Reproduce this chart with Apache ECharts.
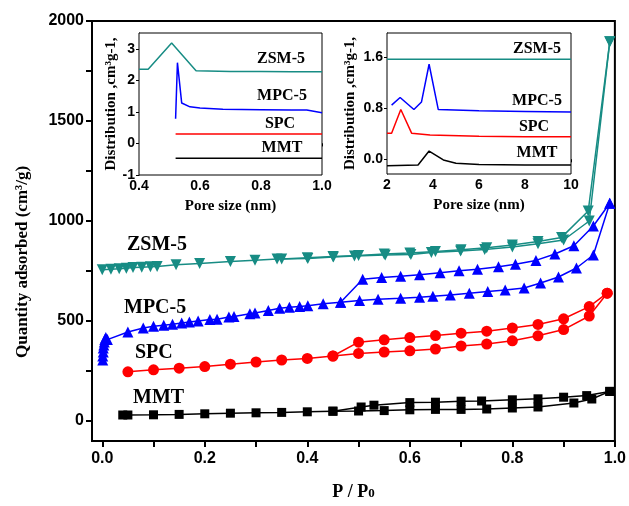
<!DOCTYPE html>
<html>
<head>
<meta charset="utf-8">
<script src="https://cdn.jsdelivr.net/npm/echarts@6/dist/echarts.min.js"></script>
<style>
  html, body { margin: 0; padding: 0; background: #fff; }
  #main { width: 629px; height: 506px; }
</style>
</head>
<body>
<div id="main"></div>
<script>
// main isotherms (P/P0 vs quantity adsorbed)
const mmtAdsX = [0.04, 0.05, 0.1, 0.15, 0.2, 0.25, 0.3, 0.35, 0.4, 0.45, 0.5, 0.55, 0.6, 0.65, 0.7, 0.75, 0.8, 0.85, 0.92, 0.955, 0.99]
const mmtAdsY = [30, 30, 31, 33, 36, 39, 41, 43, 46, 49, 50, 52, 56, 58, 58, 60, 65, 70, 90, 110, 148]
const mmtDesX = [0.99, 0.945, 0.9, 0.85, 0.8, 0.74, 0.7, 0.65, 0.6, 0.53, 0.505, 0.45]
const mmtDesY = [148, 127, 119, 111, 106, 100, 99, 94, 92, 79, 70, 49]

const spcAdsX = [0.05, 0.1, 0.15, 0.2, 0.25, 0.3, 0.35, 0.4, 0.45, 0.5, 0.55, 0.6, 0.65, 0.7, 0.75, 0.8, 0.85, 0.9, 0.95, 0.985]
const spcAdsY = [246, 256, 264, 272, 284, 295, 305, 313, 325, 338, 345, 351, 360, 375, 385, 401, 426, 457, 525, 639]
const spcDesX = [0.985, 0.95, 0.9, 0.85, 0.8, 0.75, 0.7, 0.65, 0.6, 0.55, 0.5, 0.45]
const spcDesY = [639, 572, 511, 483, 465, 449, 439, 427, 417, 406, 394, 325]

const mpcAdsX = [0.001, 0.001, 0.002, 0.002, 0.003, 0.004, 0.005, 0.007, 0.01, 0.05, 0.08, 0.1, 0.12, 0.137, 0.155, 0.17, 0.187, 0.21, 0.224, 0.247, 0.257, 0.288, 0.298, 0.324, 0.346, 0.365, 0.385, 0.401, 0.431, 0.465, 0.502, 0.538, 0.582, 0.619, 0.645, 0.679, 0.716, 0.752, 0.786, 0.823, 0.855, 0.89, 0.925, 0.958, 0.99]
const mpcAdsY = [305, 325, 345, 365, 380, 395, 408, 418, 407, 445, 465, 474, 479, 484, 490, 495, 500, 507, 509, 520, 523, 536, 540, 553, 564, 569, 573, 576, 586, 594, 602, 609, 614, 619, 624, 630, 639, 647, 655, 665, 690, 720, 765, 830, 1089]
const mpcDesX = [0.99, 0.958, 0.92, 0.883, 0.846, 0.806, 0.773, 0.732, 0.696, 0.659, 0.619, 0.582, 0.545, 0.508, 0.465]
const mpcDesY = [1089, 975, 876, 835, 803, 784, 771, 759, 751, 741, 731, 724, 718, 709, 594]

const zsmAdsX = [0.0, 0.017, 0.033, 0.047, 0.06, 0.077, 0.094, 0.107, 0.144, 0.19, 0.25, 0.298, 0.341, 0.401, 0.451, 0.492, 0.552, 0.602, 0.642, 0.699, 0.746, 0.8, 0.85, 0.9, 0.95, 0.99]
const zsmAdsY = [756, 759, 761, 764, 767, 769, 771, 772, 781, 787, 797, 804, 810, 813, 820, 825, 830, 833, 842, 850, 858, 870, 886, 905, 1000, 1896]
const zsmDesX = [0.99, 0.948, 0.896, 0.85, 0.8, 0.75, 0.7, 0.65, 0.6, 0.55, 0.5, 0.45, 0.4, 0.35]
const zsmDesY = [1896, 1050, 918, 898, 880, 866, 856, 848, 840, 835, 828, 822, 816, 810]

// inset 1: micropore distribution (0.4 - 1.0 nm)
const in1ZsmX = [0.4, 0.43, 0.507, 0.587, 0.7, 0.8, 0.9, 1.0]
const in1ZsmY = [2.35, 2.35, 3.18, 2.3, 2.28, 2.28, 2.27, 2.27]
const in1MpcX = [0.52, 0.526, 0.54, 0.567, 0.6, 0.675, 0.8, 0.9, 0.95, 1.0]
const in1MpcY = [0.78, 2.56, 1.28, 1.16, 1.12, 1.08, 1.07, 1.06, 1.06, 0.97]
const in1SpcX = [0.52, 1.0]
const in1SpcY = [0.3, 0.3]
const in1MmtX = [0.52, 1.0]
const in1MmtY = [-0.47, -0.47]

// inset 2: mesopore distribution (2 - 10 nm)
const in2ZsmX = [2, 10]
const in2ZsmY = [1.57, 1.57]
const in2MpcX = [2.2, 2.57, 3.17, 3.5, 3.83, 4.23, 6, 8, 10]
const in2MpcY = [0.85, 0.97, 0.78, 0.9, 1.49, 0.78, 0.76, 0.75, 0.74]
const in2SpcX = [2, 2.2, 2.6, 3.07, 3.87, 6, 8, 10]
const in2SpcY = [0.41, 0.41, 0.78, 0.41, 0.38, 0.36, 0.355, 0.355]
const in2MmtX = [2, 3.35, 3.83, 4.45, 5.0, 6, 8, 10]
const in2MmtY = [-0.1, -0.09, 0.13, -0.01, -0.06, -0.08, -0.09, -0.09]

// ticks
const mainXTicks = [0, 0.1, 0.2, 0.3, 0.4, 0.5, 0.6, 0.7, 0.8, 0.9, 1.0]
const mainXLabels = [0, 0.2, 0.4, 0.6, 0.8, 1.0]
const mainYTicks = [0, 250, 500, 750, 1000, 1250, 1500, 1750, 2000]
const mainYLabels = [0, 500, 1000, 1500, 2000]
const in1XLabels = [0.4, 0.6, 0.8, 1.0]
const in1YLabels = [-1, 0, 1, 2, 3]
const in2XLabels = [2, 4, 6, 8, 10]
const in2YLabels = [0, 0.8, 1.6]

const colors = { mmt: '#000000', spc: '#ff0000', mpc: '#0000ff', zsm: '#178c84' }
const serif = 'Liberation Serif'
const sans = 'Liberation Sans'

const zip = (xs, ys) => xs.map((x, i) => [x, ys[i]])

let myChart = echarts.init(document.getElementById('main'))

function isoSeries(xs, ys, color, symbol, size, rotate) {
    return {
        type: 'line',
        xAxisIndex: 0,
        yAxisIndex: 0,
        data: zip(xs, ys),
        symbol: symbol,
        symbolSize: size,
        symbolRotate: rotate || 0,
        showSymbol: true,
        lineStyle: { color: color, width: 1.5 },
        itemStyle: { color: color, borderWidth: 0 },
        animation: false,
        z: 3
    }
}

function psdSeries(idx, xs, ys, color) {
    return {
        type: 'line',
        xAxisIndex: idx,
        yAxisIndex: idx,
        data: zip(xs, ys),
        showSymbol: false,
        symbol: 'none',
        lineStyle: { color: color, width: 1.5 },
        animation: false,
        z: 6
    }
}

const tickLabel = { color: '#000', fontFamily: sans, fontWeight: 'bold' }

function insetAxes(idx, xmin, xmax, xLabels, xFmt, ymin, ymax, yLabels, yFmt, yGap) {
    return {
        x: {
            type: 'value', gridIndex: idx, min: xmin, max: xmax,
            name: 'Pore size (nm)', nameLocation: 'middle', nameGap: 24,
            nameTextStyle: { fontFamily: serif, fontWeight: 'bold', fontSize: 15, color: '#000' },
            axisLine: { lineStyle: { color: '#000', width: 1 } },
            axisTick: { inside: false, length: 3, customValues: xLabels, lineStyle: { color: '#000' } },
            axisLabel: Object.assign({ fontSize: 14, margin: 4, customValues: xLabels, formatter: xFmt }, tickLabel),
            splitLine: { show: false }
        },
        y: {
            type: 'value', gridIndex: idx, min: ymin, max: ymax,
            name: 'Distribution ,cm³g-1,', nameLocation: 'middle', nameGap: yGap,
            nameTextStyle: { fontFamily: serif, fontWeight: 'bold', fontSize: 15, color: '#000' },
            axisLine: { lineStyle: { color: '#000', width: 1 } },
            axisTick: { inside: false, length: 3, customValues: yLabels, lineStyle: { color: '#000' } },
            axisLabel: Object.assign({ fontSize: 14, margin: 4, customValues: yLabels, formatter: yFmt }, tickLabel),
            splitLine: { show: false }
        }
    }
}

const in1 = insetAxes(1, 0.4, 1.0, in1XLabels, v => v.toFixed(1), -1, 3.5, in1YLabels, v => String(Math.round(v)), 19)
const in2 = insetAxes(2, 2, 10, in2XLabels, v => String(Math.round(v)), -0.23, 1.98, in2YLabels, v => v.toFixed(1), 29)

function txt(text, x, y, size, align) {
    return {
        type: 'text', x: x, y: y, z: 10,
        style: {
            text: text, fill: '#000', font: 'bold ' + size + 'px "' + serif + '"',
            textAlign: align || 'left', textVerticalAlign: 'middle'
        }
    }
}

let option = {
    backgroundColor: '#fff',
    animation: false,
    grid: [
        { left: 92, right: 12, top: 21, bottom: 60, show: true, borderColor: '#000', borderWidth: 2, backgroundColor: 'transparent' },
        { left: 139, right: 307, top: 33, bottom: 331, show: true, borderColor: '#000', borderWidth: 1, backgroundColor: '#fff', z: 4 },
        { left: 387, right: 58, top: 33, bottom: 332, show: true, borderColor: '#000', borderWidth: 1, backgroundColor: '#fff', z: 4 }
    ],
    xAxis: [
        {
            type: 'value', gridIndex: 0, min: -0.02, max: 1.0,
            name: '{a|P / P}{b|0}', nameLocation: 'middle', nameGap: 42,
            nameTextStyle: {
                rich: {
                    a: { fontFamily: serif, fontWeight: 'bold', fontSize: 18, color: '#000' },
                    b: { fontFamily: serif, fontWeight: 'bold', fontSize: 13, color: '#000', padding: [4, 0, 0, 0] }
                }
            },
            axisLine: { onZero: false, lineStyle: { color: '#000', width: 2 } },
            axisTick: { inside: false, length: 6, customValues: mainXTicks, lineStyle: { color: '#000', width: 2 } },
            axisLabel: Object.assign({ fontSize: 16, margin: 10, customValues: mainXLabels, formatter: v => v.toFixed(1) }, tickLabel),
            splitLine: { show: false }
        },
        in1.x,
        in2.x
    ],
    yAxis: [
        {
            type: 'value', gridIndex: 0, min: -100, max: 2000,
            axisLine: { onZero: false, lineStyle: { color: '#000', width: 2 } },
            axisTick: { inside: false, length: 6, customValues: mainYTicks, lineStyle: { color: '#000', width: 2 } },
            axisLabel: Object.assign({ fontSize: 16, margin: 8, customValues: mainYLabels, formatter: v => String(Math.round(v)) }, tickLabel),
            splitLine: { show: false }
        },
        in1.y,
        in2.y
    ],
    graphic: [
        {
            type: 'text', x: 23, y: 262, rotation: Math.PI / 2, z: 10,
            style: {
                text: 'Quantity adsorbed (cm³/g)', fill: '#000',
                font: 'bold 17px "' + serif + '"', textAlign: 'center', textVerticalAlign: 'middle'
            }
        },
        txt('ZSM-5', 127, 245, 20),
        txt('MPC-5', 124, 308, 20),
        txt('SPC', 135, 353, 20),
        txt('MMT', 133, 398, 20),
        txt('ZSM-5', 281, 59, 16, 'center'),
        txt('MPC-5', 282, 96, 16, 'center'),
        txt('SPC', 280, 124, 16, 'center'),
        txt('MMT', 282, 148, 16, 'center'),
        txt('ZSM-5', 537, 49, 16, 'center'),
        txt('MPC-5', 537, 101, 16, 'center'),
        txt('SPC', 534, 127, 16, 'center'),
        txt('MMT', 537, 153, 16, 'center')
    ],
    series: [
        isoSeries(mmtAdsX, mmtAdsY, colors.mmt, 'rect', 9),
        isoSeries(mmtDesX, mmtDesY, colors.mmt, 'rect', 9),
        isoSeries(spcAdsX, spcAdsY, colors.spc, 'circle', 11),
        isoSeries(spcDesX, spcDesY, colors.spc, 'circle', 11),
        isoSeries(mpcAdsX, mpcAdsY, colors.mpc, 'triangle', 11),
        isoSeries(mpcDesX, mpcDesY, colors.mpc, 'triangle', 11),
        isoSeries(zsmAdsX, zsmAdsY, colors.zsm, 'triangle', 11, 180),
        isoSeries(zsmDesX, zsmDesY, colors.zsm, 'triangle', 11, 180),
        psdSeries(1, in1ZsmX, in1ZsmY, colors.zsm),
        psdSeries(1, in1MpcX, in1MpcY, colors.mpc),
        psdSeries(1, in1SpcX, in1SpcY, colors.spc),
        psdSeries(1, in1MmtX, in1MmtY, colors.mmt),
        psdSeries(2, in2ZsmX, in2ZsmY, colors.zsm),
        psdSeries(2, in2MpcX, in2MpcY, colors.mpc),
        psdSeries(2, in2SpcX, in2SpcY, colors.spc),
        psdSeries(2, in2MmtX, in2MmtY, colors.mmt)
    ]
}

myChart.setOption(option)
</script>
</body>
</html>
